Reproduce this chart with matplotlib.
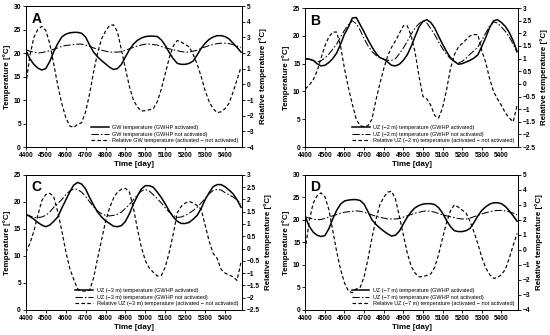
import numpy as np
import matplotlib
matplotlib.use("Agg")
import matplotlib.pyplot as plt
from matplotlib.ticker import FuncFormatter

plt.rcParams['font.family'] = ['Liberation Sans', 'DejaVu Sans']

# sample days (every 20 days)
days = np.arange(4400, 5481, 20)

# panel A - groundwater
A_act = [20.6, 18.8, 17.6, 16.8, 16.4, 16.7, 18.2, 20.3, 22.0, 23.4, 24.0, 24.3, 24.4, 24.4, 24.2, 23.4,
         21.7, 20.2, 19.2, 18.4, 17.7, 17.0, 16.5, 16.7, 17.6, 19.2, 20.7, 21.9, 22.7, 23.2, 23.5, 23.6,
         23.6, 23.5, 22.8, 21.6, 20.1, 18.8, 17.8, 17.6, 17.6, 17.8, 18.3, 19.6, 21.0, 22.1, 22.9, 23.4,
         23.7, 23.7, 23.5, 23.0, 22.1, 21.2, 20.2]
A_not = [20.7, 20.4, 20.2, 20.0, 20.1, 20.3, 20.5, 20.8, 21.1, 21.4, 21.6, 21.7, 21.8, 21.9, 21.9, 21.7,
         21.4, 21.1, 20.8, 20.6, 20.4, 20.2, 20.2, 20.2, 20.3, 20.6, 20.9, 21.2, 21.5, 21.7, 21.9, 21.9,
         21.8, 21.7, 21.4, 21.1, 20.9, 20.7, 20.5, 20.3, 20.2, 20.2, 20.4, 20.6, 21.0, 21.3, 21.6, 21.8,
         22.0, 22.1, 22.1, 22.0, 21.8, 21.5, 21.2]
A_rel = [0.0, 1.8, 3.0, 3.5, 3.7, 3.45, 2.6, 1.3, -0.05, -1.2, -2.1, -2.65, -2.75, -2.55, -2.45, -1.75,
         -0.6, 0.8, 2.0, 2.9, 3.4, 3.75, 3.8, 3.35, 2.2, 1.0, -0.15, -1.0, -1.45, -1.7, -1.68, -1.62,
         -1.55, -1.1, -0.3, 0.7, 1.7, 2.45, 2.8, 2.7, 2.55, 2.4, 1.9, 1.3, 0.5, -0.4, -1.1, -1.55,
         -1.8, -1.75, -1.55, -1.2, -0.5, 0.3, 1.1]

# panel B - UZ -2 m
B_act = [15.9, 15.8, 15.6, 15.0, 14.6, 14.7, 15.2, 15.9, 16.9, 18.5, 20.3, 21.6, 23.2, 23.3, 22.0, 20.7,
         19.3, 18.0, 16.9, 16.1, 15.8, 15.3, 14.7, 14.6, 14.9, 15.6, 16.6, 18.1, 19.9, 21.6, 22.6, 22.9,
         22.4, 21.4, 19.9, 18.5, 17.2, 16.1, 15.4, 14.9, 15.0, 15.3, 15.6, 16.0, 16.6, 18.1, 19.7, 21.5,
         22.7, 22.9, 22.4, 21.7, 20.6, 19.1, 17.2]
B_not = [15.9, 15.8, 15.6, 15.3, 15.5, 16.0, 16.7, 17.6, 18.5, 19.8, 21.0, 22.0, 22.7, 22.2, 21.0, 19.5,
         18.2, 17.2, 16.5, 16.1, 15.8, 15.6, 15.6, 15.9, 16.8, 17.8, 19.0, 20.3, 21.4, 22.2, 22.7, 22.3,
         21.3, 20.2, 18.9, 17.7, 16.7, 15.9, 15.4, 15.1, 15.4, 16.0, 16.7, 17.3, 18.0, 19.2, 20.5, 21.8,
         22.5, 22.3, 21.6, 20.8, 19.8, 18.5, 17.0]
B_rel = [-0.2, -0.05, 0.15, 0.5, 1.0, 1.5, 1.85, 2.05, 2.05, 1.5, 0.6, -0.15, -0.8, -1.4, -1.65, -1.7,
         -1.65, -1.4, -0.65, 0.0, 0.6, 1.1, 1.45, 1.7, 2.0, 2.3, 2.3, 1.9, 1.25, 0.3, -0.5, -0.6,
         -0.85, -1.25, -1.35, -0.95, -0.25, 0.6, 1.15, 1.45, 1.6, 1.75, 1.9, 1.95, 1.95, 1.3, 0.85, 0.2,
         -0.3, -0.6, -0.85, -1.15, -1.35, -1.5, -0.85]

# panel C - UZ -3 m
C_act = [17.7, 17.3, 16.8, 16.2, 15.7, 15.4, 15.7, 16.4, 17.2, 18.8, 20.3, 21.8, 23.1, 23.6, 23.3, 22.4,
         20.8, 19.4, 18.1, 17.2, 16.5, 16.0, 15.5, 15.4, 15.6, 16.4, 17.8, 19.6, 21.1, 22.4, 23.0, 23.0,
         22.7, 21.8, 20.8, 19.6, 18.3, 17.2, 16.4, 16.0, 16.0, 16.2, 16.8, 17.5, 18.8, 20.4, 21.7, 22.8,
         23.2, 23.2, 22.8, 22.2, 21.5, 20.4, 19.0]
C_not = [17.7, 17.4, 17.1, 17.1, 17.2, 17.5, 18.1, 19.0, 19.7, 20.4, 21.3, 22.0, 22.4, 22.3, 21.8, 21.0,
         20.0, 19.1, 18.3, 17.8, 17.5, 17.4, 17.5, 17.7, 18.1, 18.8, 19.5, 20.4, 21.3, 22.0, 22.3, 22.0,
         21.3, 20.6, 19.8, 18.9, 18.1, 17.5, 17.1, 17.2, 17.5, 17.9, 18.4, 19.0, 19.8, 20.6, 21.5, 22.1,
         22.3, 22.2, 21.7, 21.3, 20.9, 20.4, 19.6]
C_rel = [-0.15, 0.2, 0.7, 1.35, 1.95, 2.2, 2.25, 2.1, 1.5, 0.75, -0.1, -0.8, -1.25, -1.65, -1.72, -1.74,
         -1.7, -1.2, -0.4, 0.35, 1.1, 1.65, 2.05, 2.3, 2.42, 2.45, 2.3, 1.65, 0.8, 0.05, -0.5, -0.8,
         -0.97, -1.12, -1.1, -0.75, -0.15, 0.6, 1.45, 1.72, 1.85, 1.92, 1.85, 1.75, 1.6, 0.95, 0.3, -0.2,
         -0.4, -0.85, -1.0, -1.08, -1.15, -1.3, -0.55]

# panel D - UZ -7 m
D_act = [20.7, 18.6, 17.3, 16.6, 16.3, 16.5, 18.0, 20.2, 22.1, 23.5, 24.2, 24.4, 24.5, 24.5, 24.3, 23.5,
         21.8, 20.0, 19.0, 18.2, 17.5, 16.9, 16.4, 16.6, 17.5, 19.1, 20.6, 21.8, 22.7, 23.2, 23.5, 23.6,
         23.6, 23.4, 22.7, 21.5, 19.9, 18.5, 17.6, 17.4, 17.4, 17.6, 18.1, 19.4, 20.9, 22.1, 22.9, 23.5,
         23.8, 23.8, 23.6, 23.0, 22.0, 20.9, 19.7]
D_not = [20.7, 20.4, 20.2, 20.0, 20.1, 20.3, 20.6, 20.9, 21.2, 21.5, 21.7, 21.8, 21.9, 22.0, 21.9, 21.7,
         21.4, 21.1, 20.8, 20.6, 20.4, 20.2, 20.2, 20.2, 20.3, 20.6, 20.9, 21.2, 21.5, 21.7, 21.9, 22.0,
         21.9, 21.7, 21.4, 21.1, 20.9, 20.7, 20.5, 20.3, 20.2, 20.2, 20.4, 20.7, 21.0, 21.3, 21.6, 21.8,
         22.0, 22.1, 22.1, 22.0, 21.8, 21.5, 21.1]
D_rel = [0.0, 1.9, 3.1, 3.6, 3.8, 3.55, 2.7, 1.3, -0.1, -1.3, -2.2, -2.75, -2.85, -2.6, -2.5, -1.8,
         -0.6, 0.8, 2.0, 3.0, 3.5, 3.85, 3.9, 3.4, 2.2, 1.0, -0.2, -1.1, -1.55, -1.8, -1.78, -1.7,
         -1.6, -1.15, -0.3, 0.8, 1.8, 2.6, 3.0, 2.85, 2.65, 2.45, 1.9, 1.2, 0.4, -0.5, -1.2, -1.65,
         -1.9, -1.85, -1.65, -1.3, -0.55, 0.3, 1.1]

panels = [
    ("A", A_act, A_not, A_rel, "GW", (0, 30, 5), (-4, 5, 1)),
    ("B", B_act, B_not, B_rel, "UZ (\u22122 m)", (0, 25, 5), (-2.5, 3, 0.5)),
    ("C", C_act, C_not, C_rel, "UZ (\u22123 m)", (0, 25, 5), (-2.5, 3, 0.5)),
    ("D", D_act, D_not, D_rel, "UZ (\u22127 m)", (0, 30, 5), (-4, 5, 1)),
]

# axes rectangles [left, bottom, width, height]
rects = [[0.047, 0.561, 0.393, 0.421],
         [0.555, 0.561, 0.387, 0.415],
         [0.047, 0.075, 0.393, 0.403],
         [0.555, 0.075, 0.387, 0.403]]

fmt = FuncFormatter(lambda v, p: ('%g' % v).replace('-', '\u2212'))

fig = plt.figure(figsize=(5.5, 3.35), dpi=100)

for (letter, act, nact, rel, name, ylim, rlim), r in zip(panels, rects):
    ax = fig.add_axes(r)
    ax2 = ax.twinx()

    l1, = ax.plot(days, act, color='black', lw=1.1, label=name + ' temperature (GWHP activated)')
    l2, = ax.plot(days, nact, color='black', lw=0.75, dashes=(7, 2, 1.5, 2),
                  label=name + ' temperature (GWHP not activated)')
    l3, = ax2.plot(days, rel, color='black', lw=0.85, dashes=(3, 2),
                   label='Relative ' + name + ' temperature (activated \u2212 not activated)')

    ax.set_xlim(4400, 5485)
    ax.set_xticks(np.arange(4400, 5401, 100))
    ax.set_ylim(ylim[0], ylim[1])
    ax.set_yticks(np.arange(ylim[0], ylim[1] + 0.01, ylim[2]))
    ax2.set_ylim(rlim[0], rlim[1])
    ax2.set_yticks(np.arange(rlim[0], rlim[1] + 0.01, rlim[2]))
    ax.yaxis.set_major_formatter(fmt)
    ax2.yaxis.set_major_formatter(fmt)

    for a in (ax, ax2):
        a.tick_params(labelsize=4.8, length=2, width=0.6, pad=1.5)
        for lab in a.get_xticklabels() + a.get_yticklabels():
            lab.set_fontweight('bold')
        for s in a.spines.values():
            s.set_linewidth(0.7)

    ax.set_xlabel('Time [day]', fontsize=5.8, fontweight='bold', labelpad=1.5)
    ax.set_ylabel('Temperature [\u00b0C]', fontsize=5.8, fontweight='bold', labelpad=2)
    ax2.set_ylabel('Relative temperature [\u00b0C]', fontsize=5.8, fontweight='bold',
                   rotation=90, labelpad=3)

    ax.text(0.025, 0.96, letter, transform=ax.transAxes, fontsize=10, fontweight='bold',
            va='top', ha='left')

    ax2.legend(handles=[l1, l2, l3], loc='lower right', frameon=False, fontsize=4,
               handlelength=3.2, handletextpad=0.6, labelspacing=0.25, borderaxespad=0.3)

fig.savefig('out.png', dpi=100)
